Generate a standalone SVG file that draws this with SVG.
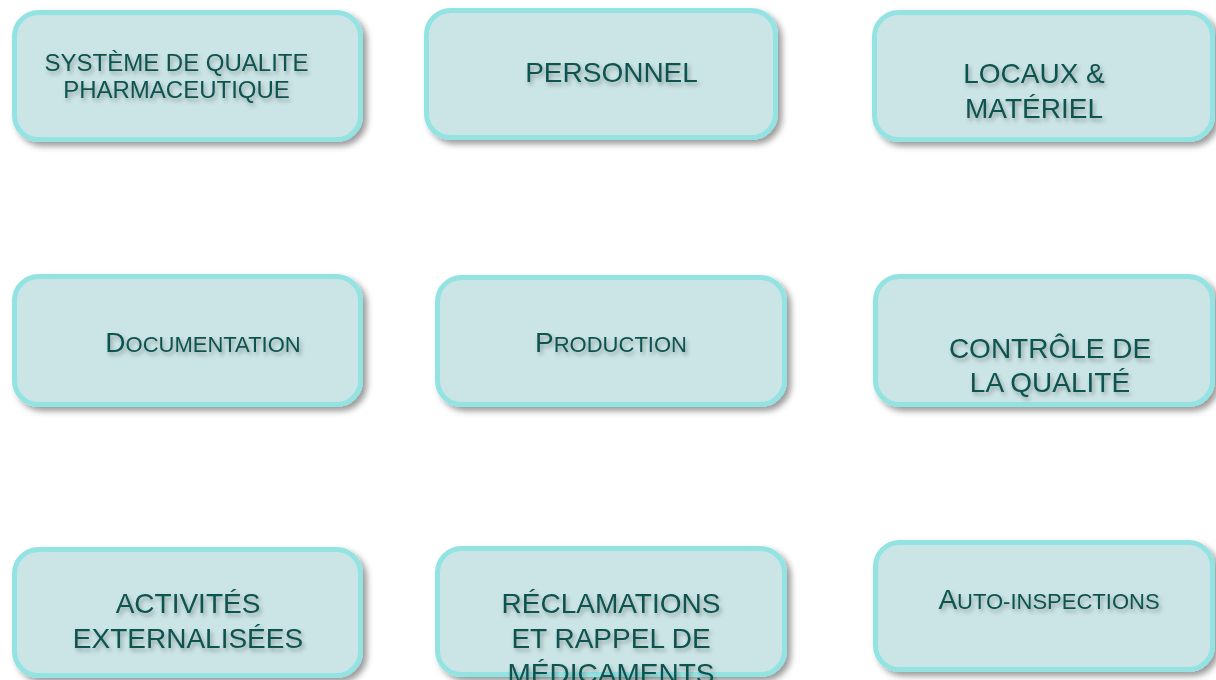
<svg xmlns="http://www.w3.org/2000/svg" width="1216" height="680" viewBox="0 0 1216 680">
<defs>
<filter id="boxShadow" x="-10%" y="-10%" width="125%" height="130%">
<feDropShadow dx="4" dy="4" stdDeviation="3" flood-color="#000" flood-opacity="0.4"/>
</filter>
<filter id="txtShadow" x="-10%" y="-30%" width="125%" height="170%">
<feDropShadow dx="2" dy="3" stdDeviation="2" flood-color="#000" flood-opacity="0.3"/>
</filter>
</defs>
<style>
.box{fill:#cbe4e5;stroke:#93e3e3;stroke-width:5;filter:url(#boxShadow)}
.lbl{font-family:"Liberation Sans",Arial,sans-serif;fill:#0c524f;text-anchor:middle;filter:url(#txtShadow)}
.f24{font-size:24px}
.f28{font-size:28px}
.sc{font-size:22px}
</style>
<rect width="1216" height="680" fill="#ffffff"/>
<g id="connectors"/>
<g id="n1">
<rect class="box" x="14.5" y="12.5" width="346" height="127" rx="24"/>
<text class="lbl f24" x="176.5" y="71">SYSTÈME DE QUALITE</text>
<text class="lbl f24" x="176.5" y="98">PHARMACEUTIQUE</text>
</g>
<g id="n2">
<rect class="box" x="426.5" y="10.5" width="349" height="127" rx="24"/>
<text class="lbl f28" x="611.5" y="82">PERSONNEL</text>
</g>
<g id="n3">
<rect class="box" x="874.5" y="12.5" width="338" height="127" rx="24"/>
<text class="lbl f28" x="1034" y="83">LOCAUX &amp;</text>
<text class="lbl f28" x="1034" y="118">MATÉRIEL</text>
</g>
<g id="n4">
<rect class="box" x="14.5" y="276.5" width="346" height="128" rx="24"/>
<text class="lbl f28" x="203" y="352">D<tspan class="sc">OCUMENTATION</tspan></text>
</g>
<g id="n5">
<rect class="box" x="437.5" y="277.5" width="347" height="127" rx="24"/>
<text class="lbl f28" x="611" y="352">P<tspan class="sc">RODUCTION</tspan></text>
</g>
<g id="n6">
<rect class="box" x="875.5" y="276.5" width="337" height="128" rx="24"/>
<text class="lbl f28" x="1050" y="358">CONTRÔLE DE</text>
<text class="lbl f28" x="1050" y="392">LA QUALITÉ</text>
</g>
<g id="n7">
<rect class="box" x="14.5" y="549.5" width="346" height="126" rx="24"/>
<text class="lbl f28" x="188" y="613">ACTIVITÉS</text>
<text class="lbl f28" x="188" y="648">EXTERNALISÉES</text>
</g>
<g id="n8">
<rect class="box" x="437.5" y="548.5" width="347" height="126" rx="24"/>
<text class="lbl f28" x="611" y="613">RÉCLAMATIONS</text>
<text class="lbl f28" x="611" y="648">ET RAPPEL DE</text>
<text class="lbl f28" x="611" y="683">MÉDICAMENTS</text>
</g>
<g id="n9">
<rect class="box" x="875.5" y="542.5" width="337" height="127" rx="24"/>
<text class="lbl f28" x="1049" y="609">A<tspan class="sc">UTO-INSPECTIONS</tspan></text>
</g>
</svg>
